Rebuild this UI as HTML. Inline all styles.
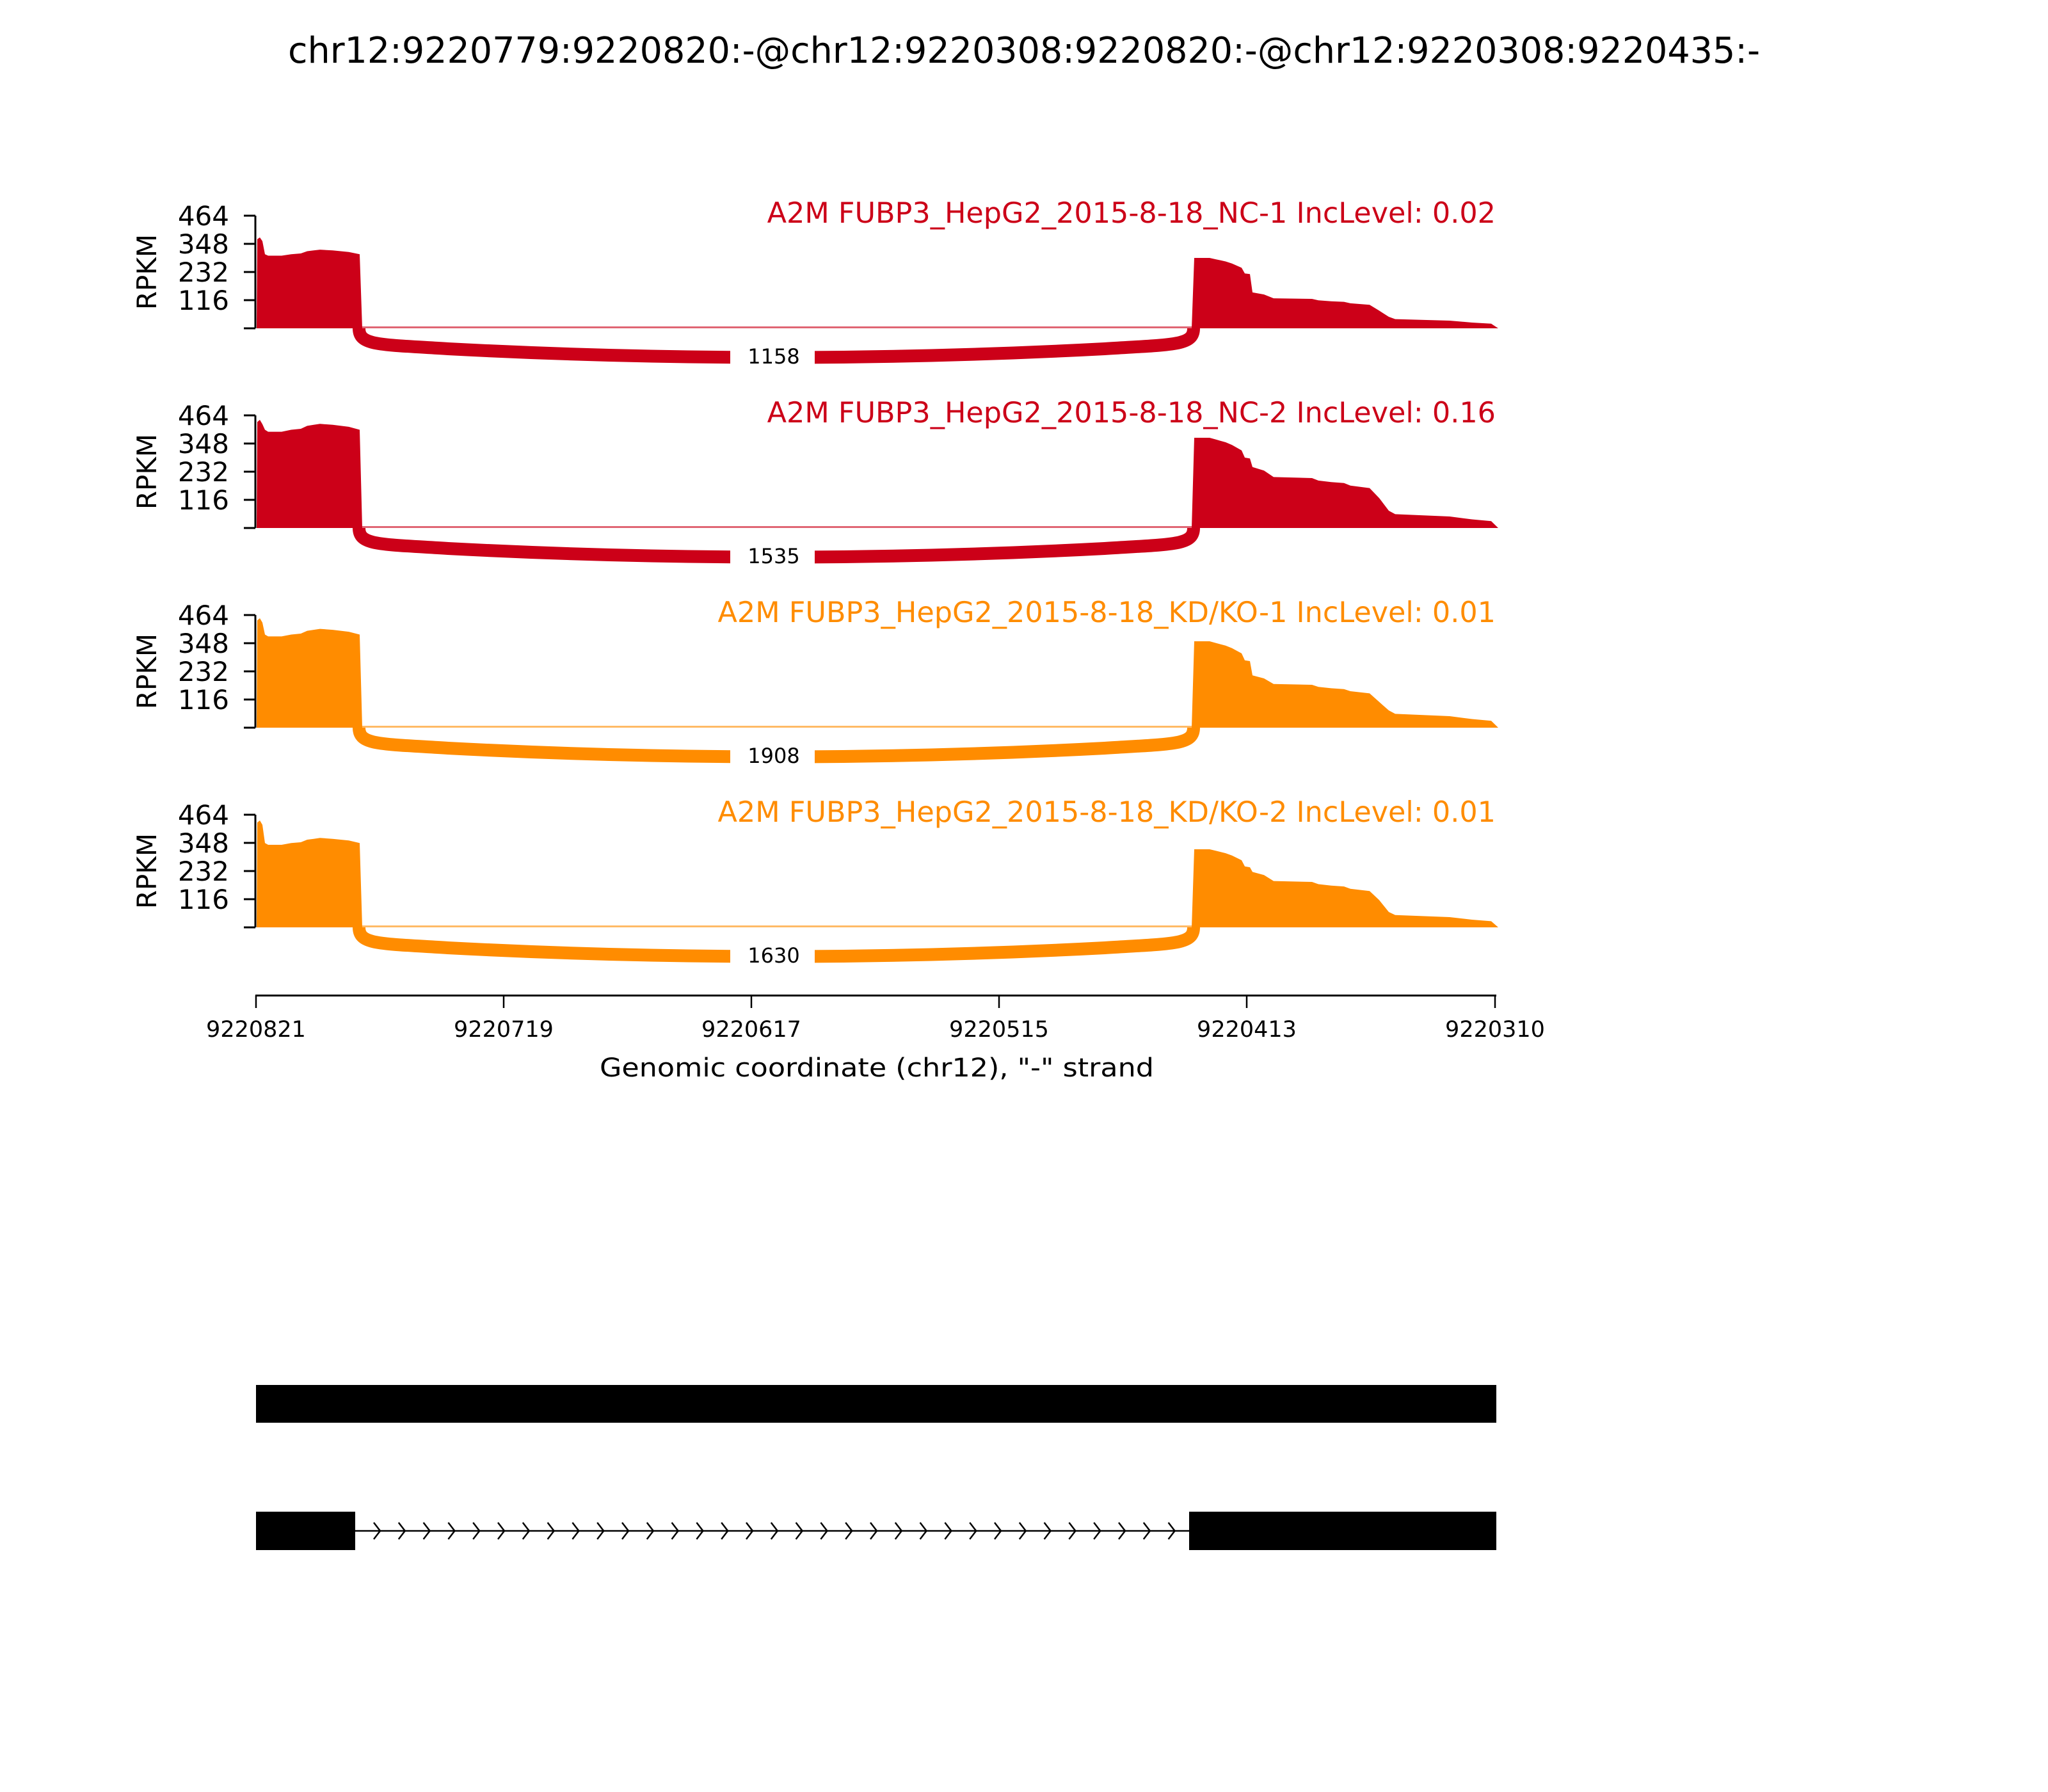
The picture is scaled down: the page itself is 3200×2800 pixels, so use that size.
<!DOCTYPE html>
<html><head><meta charset="utf-8"><style>
html,body{margin:0;padding:0;background:#fff;}
svg{display:block;font-family:"DejaVu Sans","Liberation Sans",sans-serif;}
</style></head><body>
<svg id="s" width="3200" height="2800" viewBox="0 0 3200 2800" xmlns="http://www.w3.org/2000/svg">
<rect width="3200" height="2800" fill="#fff"/>
<text x="1600" y="98" font-size="56" text-anchor="middle" textLength="2300" lengthAdjust="spacingAndGlyphs">chr12:9220779:9220820:-@chr12:9220308:9220820:-@chr12:9220308:9220435:-</text>
<g id="tracks"></g>
<g stroke="#000">
<line x1="399" y1="1555.5" x2="2338" y2="1555.5" stroke-width="3"/>
<line x1="400" y1="1555" x2="400" y2="1575" stroke-width="2.5"/>
<line x1="787" y1="1555" x2="787" y2="1575" stroke-width="2.5"/>
<line x1="1174" y1="1555" x2="1174" y2="1575" stroke-width="2.5"/>
<line x1="1561" y1="1555" x2="1561" y2="1575" stroke-width="2.5"/>
<line x1="1948" y1="1555" x2="1948" y2="1575" stroke-width="2.5"/>
<line x1="2336" y1="1555" x2="2336" y2="1575" stroke-width="2.5"/>
</g>
<g font-size="35" text-anchor="middle">
<text x="400" y="1620">9220821</text>
<text x="787" y="1620">9220719</text>
<text x="1174" y="1620">9220617</text>
<text x="1561" y="1620">9220515</text>
<text x="1948" y="1620">9220413</text>
<text x="2336" y="1620">9220310</text>
</g>
<text x="1370" y="1682" font-size="40" text-anchor="middle" textLength="866" lengthAdjust="spacingAndGlyphs">Genomic coordinate (chr12), "-" strand</text>
<rect x="400" y="2164" width="1938" height="59" fill="#000"/>
<rect x="400" y="2362" width="155" height="60" fill="#000"/>
<rect x="1858" y="2362" width="480" height="60" fill="#000"/>
<line x1="555" y1="2392" x2="1858" y2="2392" stroke="#000" stroke-width="2.5"/>
<g id="chev" fill="none" stroke="#000" stroke-width="2.5"></g>
</svg>
<script>
var NS="http://www.w3.org/2000/svg";
function el(tag,attrs,txt,parent){var e=document.createElementNS(NS,tag);for(var k in attrs)e.setAttribute(k,attrs[k]);if(txt)e.textContent=txt;parent.appendChild(e);return e;}
var ch=document.getElementById('chev');
var d="";
for(var i=0;i<33;i++){var tx=594+i*38.8;d+="M"+(tx-10)+",2379 L"+tx+",2392 L"+(tx-10)+",2405 ";}
el('path',{d:d},null,ch);
var tracks=[
 {c:"#cc0018",t:"A2M FUBP3_HepG2_2015-8-18_NC-1 IncLevel: 0.02",n:"1158",p1:142,pl:117,h:110,m:46,tl:12},
 {c:"#cc0018",t:"A2M FUBP3_HepG2_2015-8-18_NC-2 IncLevel: 0.16",n:"1535",p1:169,pl:155,h:141,m:78,tl:18},
 {c:"#ff8c00",t:"A2M FUBP3_HepG2_2015-8-18_KD/KO-1 IncLevel: 0.01",n:"1908",p1:171,pl:147,h:135,m:67,tl:18},
 {c:"#ff8c00",t:"A2M FUBP3_HepG2_2015-8-18_KD/KO-2 IncLevel: 0.01",n:"1630",p1:167,pl:133,h:122,m:71,tl:16}
];
var g=document.getElementById('tracks');
tracks.forEach(function(T,k){
 var b=513+k*312, top=b-176;
 var gg=el('g',{},null,g);
 el('line',{x1:399,y1:top,x2:399,y2:b,stroke:"#000","stroke-width":3},null,gg);
 var labs=["464","348","232","116",""];
 for(var j=0;j<5;j++){var y=top+j*44;el('line',{x1:381,y1:y,x2:399,y2:y,stroke:"#000","stroke-width":3},null,gg);
  if(labs[j])el('text',{x:358,y:y+15,"font-size":42,"text-anchor":"end"},labs[j],gg);}
 el('text',{x:0,y:0,"font-size":42,"text-anchor":"middle",transform:"translate(244,"+(top+88)+") rotate(-90)"},"RPKM",gg);
 el('text',{x:2337,y:top+11,"font-size":44.5,"text-anchor":"end",fill:T.c},T.t,gg);
 var e1=[[401,0],[402,T.p1*0.98],[406,T.p1],[410,T.p1*0.96],[414,T.pl*0.99],[419,T.pl*0.97],[440,T.pl*0.97],[455,T.pl*0.99],[470,T.pl*1.0],[480,T.pl*1.03],[490,T.pl*1.04],[500,T.pl*1.05],[520,T.pl*1.04],[545,T.pl*1.02],[562,T.pl*0.99],[566,0]];
 var e2=[[1862,0],[1866,T.h],[1890,T.h],[1900,T.h*0.98],[1915,T.h*0.95],[1925,T.h*0.92],[1940,T.h*0.86],[1945,T.h*0.78],[1953,T.h*0.77],[1957,T.m*1.22],[1975,T.m*1.15],[1990,T.m*1.02],[2050,T.m],[2060,T.m*0.95],[2080,T.m*0.92],[2100,T.m*0.9],[2110,T.m*0.85],[2140,T.m*0.8],[2155,T.m*0.6],[2170,T.tl*1.5],[2180,T.tl*1.2],[2265,T.tl],[2300,T.tl*0.75],[2330,T.tl*0.6],[2341,0]];
 function area(pts){return "M"+pts.map(function(p){return p[0]+","+(b-p[1]).toFixed(1);}).join(" L")+" Z";}
 el('path',{d:area(e1),fill:T.c},null,gg);
 el('path',{d:area(e2),fill:T.c},null,gg);
 el('rect',{x:562,y:b-3,width:1302,height:3,fill:T.c,opacity:0.6},null,gg);
 var dep=b+44;
 el('path',{d:"M561,"+b+" C561,"+(b+27)+" 590,"+(b+25)+" 700,"+(b+32)+" Q1213,"+(b+59)+" 1726,"+(b+32)+" C1836,"+(b+25)+" 1865,"+(b+27)+" 1865,"+b,fill:"none",stroke:T.c,"stroke-width":20},null,gg);
 el('rect',{x:1141,y:dep-22,width:132,height:44,fill:"#fff"},null,gg);
 el('text',{x:1209,y:dep+11,"font-size":32,"text-anchor":"middle"},T.n,gg);
});
</script>
</body></html>
